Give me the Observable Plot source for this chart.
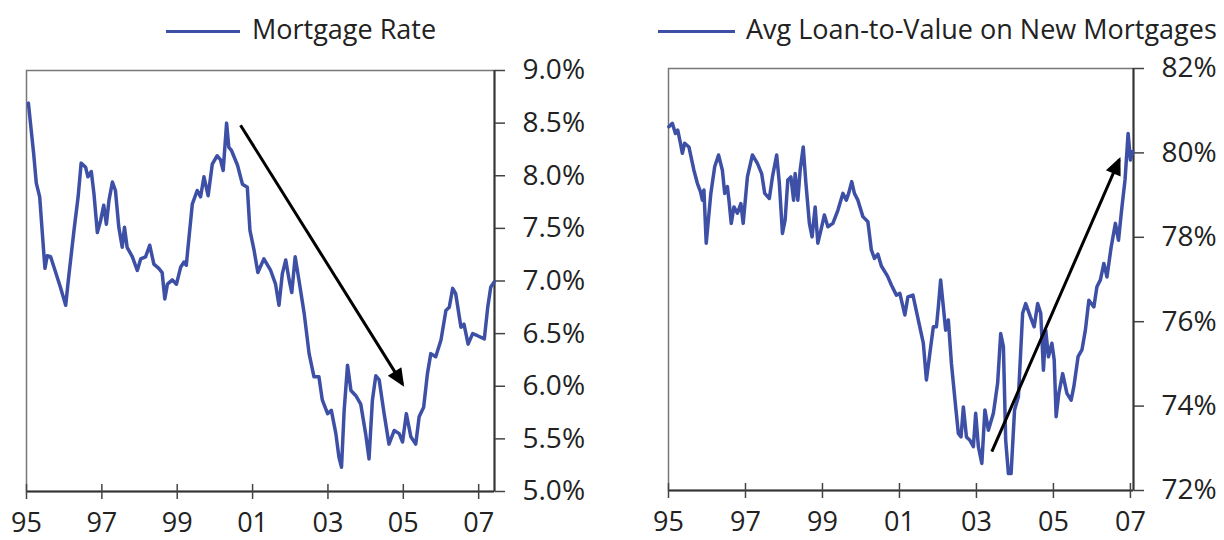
<!DOCTYPE html>
<html><head><meta charset="utf-8">
<script src="https://cdn.jsdelivr.net/npm/d3@7"></script>
<script src="https://cdn.jsdelivr.net/npm/@observablehq/plot@0.6"></script>
<style>
html,body{margin:0;padding:0;background:#fff;}
#wrap{display:flex;width:1224px;height:540px;font-family:"Open Sans",sans-serif;}
.panel{width:612px;position:relative;}
.legend{position:relative;height:50px;}
.sw{position:absolute;height:3px;background:#3d50a5;top:30px;}
.lt{position:absolute;top:15px;font-size:27px;line-height:27px;color:#222;white-space:nowrap;}
svg{display:block;}
</style></head><body>
<div id="wrap"><div class="panel" id="p1"></div><div class="panel" id="p2"></div></div>
<script>
// ---- Left panel: Mortgage Rate (%) ----
const rateLabel = "Mortgage Rate";
const rateYears = [1995.05,1995.19,1995.26,1995.35,1995.46,1995.49,1995.55,1995.64,1995.73,1995.90,1996.04,1996.12,1996.26,1996.37,1996.45,1996.57,1996.63,1996.72,1996.79,1996.88,1996.97,1997.05,1997.12,1997.19,1997.28,1997.36,1997.45,1997.54,1997.60,1997.67,1997.81,1997.94,1998.03,1998.16,1998.27,1998.38,1998.51,1998.60,1998.67,1998.74,1998.87,1998.98,1999.09,1999.18,1999.24,1999.40,1999.53,1999.62,1999.71,1999.82,1999.93,2000.06,2000.15,2000.22,2000.31,2000.37,2000.44,2000.60,2000.73,2000.86,2000.93,2001.04,2001.14,2001.30,2001.48,2001.61,2001.70,2001.79,2001.88,2001.97,2002.04,2002.13,2002.23,2002.37,2002.50,2002.63,2002.76,2002.85,2002.99,2003.09,2003.21,2003.29,2003.36,2003.43,2003.52,2003.61,2003.74,2003.87,2004.00,2004.09,2004.18,2004.27,2004.36,2004.49,2004.62,2004.76,2004.89,2004.98,2005.08,2005.20,2005.33,2005.42,2005.54,2005.64,2005.73,2005.86,2006.00,2006.13,2006.22,2006.31,2006.39,2006.53,2006.61,2006.72,2006.84,2006.97,2007.15,2007.24,2007.32,2007.41];
const rateValues = [8.69,8.21,7.93,7.80,7.26,7.12,7.24,7.23,7.13,6.94,6.77,7.04,7.48,7.80,8.12,8.08,7.99,8.04,7.83,7.46,7.58,7.72,7.54,7.77,7.94,7.86,7.51,7.32,7.51,7.32,7.23,7.10,7.21,7.23,7.34,7.16,7.12,7.08,6.83,6.97,7.01,6.97,7.13,7.18,7.15,7.73,7.86,7.80,7.99,7.81,8.11,8.19,8.15,8.05,8.50,8.27,8.24,8.10,7.92,7.89,7.48,7.29,7.08,7.21,7.10,6.97,6.77,7.07,7.20,7.01,6.89,7.23,7.01,6.69,6.31,6.09,6.09,5.87,5.74,5.77,5.55,5.33,5.23,5.77,6.20,5.96,5.91,5.83,5.55,5.31,5.87,6.10,6.06,5.74,5.45,5.58,5.55,5.47,5.74,5.52,5.45,5.71,5.80,6.12,6.31,6.28,6.44,6.72,6.75,6.93,6.88,6.56,6.59,6.40,6.50,6.48,6.45,6.75,6.94,6.99];
const rateXDomain = [1995, 2007.42];
const rateYDomain = [5, 9];
const rateYTicks = [5, 5.5, 6, 6.5, 7, 7.5, 8, 8.5, 9];
const rateArrowFrom = [2000.68, 8.48];
const rateArrowTo = [2004.98, 6.02];

// ---- Right panel: Avg Loan-to-Value (%) ----
const ltvLabel = "Avg Loan-to-Value on New Mortgages";
const ltvYears = [1995.01,1995.10,1995.18,1995.24,1995.31,1995.36,1995.42,1995.53,1995.66,1995.75,1995.83,1995.88,1995.92,1995.98,1996.10,1996.20,1996.30,1996.40,1996.46,1996.53,1996.57,1996.63,1996.70,1996.79,1996.88,1996.94,1997.05,1997.18,1997.31,1997.42,1997.50,1997.62,1997.70,1997.81,1997.88,1997.96,1998.03,1998.10,1998.18,1998.25,1998.29,1998.36,1998.42,1998.50,1998.57,1998.66,1998.73,1998.81,1998.88,1998.96,1999.05,1999.14,1999.27,1999.40,1999.53,1999.62,1999.68,1999.76,1999.83,1999.92,2000.05,2000.18,2000.27,2000.35,2000.44,2000.53,2000.69,2000.79,2000.92,2001.01,2001.14,2001.22,2001.35,2001.49,2001.62,2001.70,2001.79,2001.88,2001.96,2002.01,2002.07,2002.14,2002.20,2002.27,2002.35,2002.46,2002.53,2002.60,2002.66,2002.74,2002.83,2002.92,2002.98,2003.05,2003.14,2003.22,2003.31,2003.44,2003.55,2003.63,2003.70,2003.76,2003.83,2003.90,2003.99,2004.09,2004.20,2004.28,2004.40,2004.50,2004.59,2004.67,2004.74,2004.80,2004.87,2004.96,2005.02,2005.07,2005.14,2005.24,2005.35,2005.46,2005.53,2005.64,2005.74,2005.83,2005.92,2006.05,2006.13,2006.22,2006.31,2006.39,2006.50,2006.61,2006.69,2006.78,2006.86,2006.94,2007.00,2007.06];
const ltvValues = [80.62,80.70,80.46,80.54,80.23,79.99,80.23,80.14,79.59,79.28,79.08,78.88,79.12,77.86,79.04,79.67,79.95,79.59,79.04,79.20,78.88,78.33,78.72,78.57,78.80,78.33,79.43,79.95,79.75,79.51,79.04,78.92,79.43,79.95,79.28,78.09,78.41,79.36,79.43,78.88,79.51,78.88,79.59,80.14,79.28,78.33,78.01,78.72,77.86,78.17,78.53,78.25,78.33,78.64,79.04,78.88,79.04,79.32,79.04,78.88,78.49,78.37,77.70,77.50,77.60,77.32,77.08,76.87,76.63,76.67,76.16,76.59,76.63,76.04,75.49,74.62,75.25,75.88,75.88,76.35,76.99,76.35,75.80,76.04,75.01,73.98,73.35,73.27,73.98,73.27,73.19,73.04,73.83,73.04,72.64,73.91,73.43,73.83,74.54,75.72,75.41,73.19,72.40,72.40,73.91,74.22,76.20,76.43,76.12,75.88,76.43,76.20,74.85,75.80,75.17,75.49,75.09,73.75,74.30,74.77,74.30,74.14,74.46,75.17,75.33,75.80,76.51,76.35,76.83,76.99,77.38,77.06,77.77,78.33,77.93,78.72,79.36,80.46,79.83,80.03];
const ltvXDomain = [1995, 2007.08];
const ltvYDomain = [72, 82];
const ltvYTicks = [72, 74, 76, 78, 80, 82];
const ltvArrowFrom = [2003.40, 72.92];
const ltvArrowTo = [2006.71, 79.84];

const xTicks = [1995, 1997, 1999, 2001, 2003, 2005, 2007];
const lineColor = "#3d50a5";
const FONT = "'Open Sans', sans-serif";

function legend(parent, label, swLeft, swWidth, textLeft) {
  const lg = document.createElement("div");
  lg.className = "legend";
  lg.innerHTML = `<div class="sw" style="left:${swLeft}px;width:${swWidth}px"></div><div class="lt" style="left:${textLeft}px">${label}</div>`;
  parent.appendChild(lg);
}

function chart({years, values, xDomain, yDomain, yTicks, yFmt, arrowFrom, arrowTo, margins}) {
  const data = years.map((y, i) => ({x: y, v: values[i]}));
  const svg = Plot.plot({
    width: 612, height: 490,
    marginTop: margins[0], marginRight: margins[1], marginBottom: margins[2], marginLeft: margins[3],
    style: {fontFamily: FONT, fontSize: "28px", color: "#222", background: "white", overflow: "visible"},
    x: {domain: xDomain},
    y: {domain: yDomain},
    marks: [
      Plot.frame({stroke: "#777", strokeWidth: 1.5}),
      Plot.ruleY([yDomain[0]], {stroke: "#333", strokeWidth: 2}),
      Plot.ruleX([xDomain[1]], {stroke: "#333", strokeWidth: 2}),
      Plot.axisX(xTicks, {tickSize: 15, dy: -7, tickFormat: () => "", label: null, stroke: "#444", strokeWidth: 1.5}),
      Plot.axisX(xTicks, {tickSize: 0, tickPadding: 21, fontSize: 27, tickFormat: d => String(d).slice(-2), label: null}),
      Plot.axisY(yTicks, {anchor: "right", tickSize: 10, tickPadding: 18, tickFormat: yFmt, label: null, stroke: "#444", strokeWidth: 1.5}),
      Plot.line(data, {x: "x", y: "v", stroke: lineColor, strokeWidth: 3.5, strokeLinejoin: "round"}),
      Plot.link([0], {x1: () => arrowFrom[0], y1: () => arrowFrom[1], x2: () => arrowTo[0], y2: () => arrowTo[1],
        stroke: "black", strokeWidth: 3, markerEnd: "arrow"})
    ]
  });
  // filled triangular arrowhead
  svg.querySelectorAll("marker").forEach(m => {
    m.setAttribute("overflow", "visible");
    m.setAttribute("fill", "black");
    m.setAttribute("stroke", "none");
    m.querySelectorAll("path").forEach(p => {
      p.setAttribute("d", "M-7.5,-4L1.5,0L-7.5,4Z");
      p.setAttribute("fill", "black");
      p.setAttribute("stroke", "none");
    });
  });
  return svg;
}

const p1 = document.getElementById("p1");
legend(p1, rateLabel, 166, 74, 252);
p1.appendChild(chart({years: rateYears, values: rateValues, xDomain: rateXDomain, yDomain: rateYDomain,
  yTicks: rateYTicks, yFmt: d => d.toFixed(1) + "%", arrowFrom: rateArrowFrom, arrowTo: rateArrowTo,
  margins: [20, 118, 49, 26]}));

const p2 = document.getElementById("p2");
legend(p2, ltvLabel, 46, 77, 134);
p2.appendChild(chart({years: ltvYears, values: ltvValues, xDomain: ltvXDomain, yDomain: ltvYDomain,
  yTicks: ltvYTicks, yFmt: d => d + "%", arrowFrom: ltvArrowFrom, arrowTo: ltvArrowTo,
  margins: [18, 91, 50, 56]}));
</script>
</body></html>
